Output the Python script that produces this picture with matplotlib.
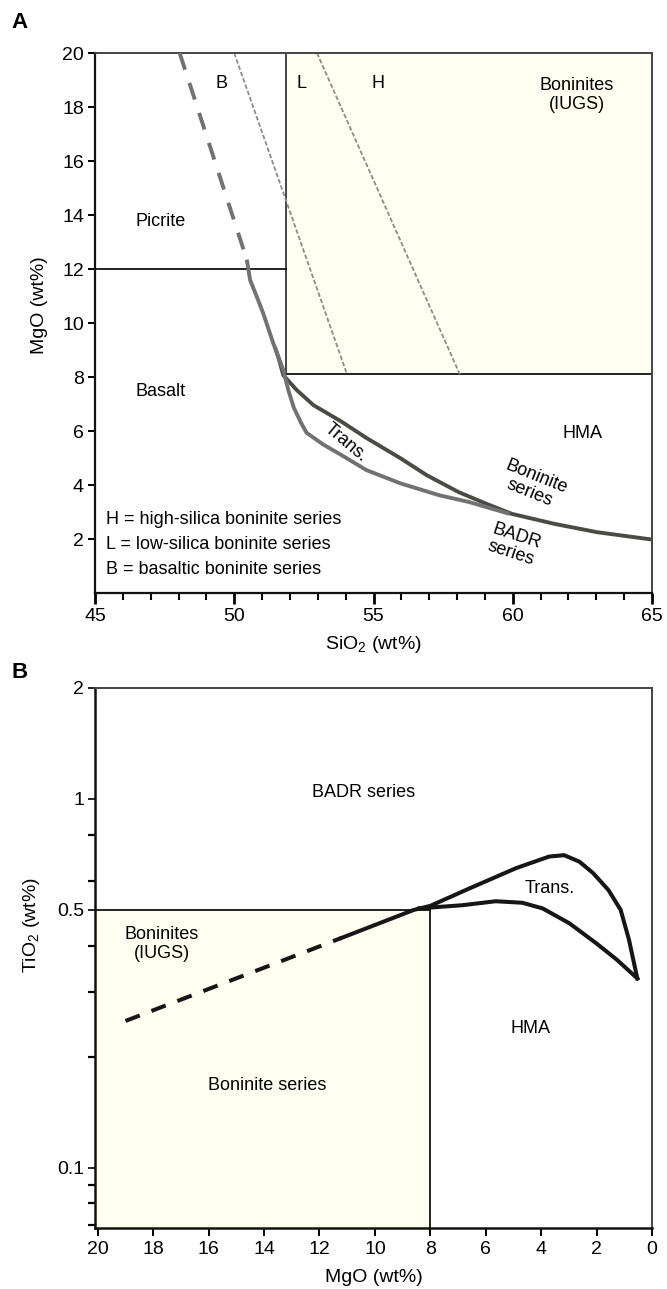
import numpy as np
import matplotlib
matplotlib.use("Agg")
import matplotlib.pyplot as plt
from matplotlib.patches import Rectangle
from matplotlib.ticker import FixedLocator, FixedFormatter, NullFormatter

plt.rcParams['font.family'] = ['Liberation Sans', 'DejaVu Sans']
plt.rcParams['mathtext.fontset'] = 'custom'
plt.rcParams['mathtext.rm'] = 'Liberation Sans'
plt.rcParams['mathtext.it'] = 'Liberation Sans:italic'

# ---- panel A: MgO vs SiO2 ----
picrite_mgo = 12.0
iugs_a_sio2 = 51.85      # left edge of IUGS boninite field
iugs_a_mgo = 8.1         # lower edge of IUGS boninite field
bl_sio2 = [50.0, 54.05]  # B / L divide
bl_mgo = [20.0, 8.1]
lh_sio2 = [52.97, 58.1]  # L / H divide
lh_mgo = [20.0, 8.1]

badr_dash_sio2 = [48.04, 50.45]
badr_dash_mgo = [20.0, 12.35]
badr_sio2 = [50.45, 50.57, 50.8, 51.04, 51.4, 51.76, 51.94, 52.14, 52.4, 52.6,
             53.21, 53.83, 54.75, 55.97, 57.36, 58.43, 59.89]
badr_mgo = [12.35, 11.59, 11.0, 10.36, 9.25, 8.26, 7.52, 6.86, 6.3, 5.93,
            5.49, 5.12, 4.55, 4.06, 3.62, 3.37, 2.93]
bon_sio2 = [51.46, 51.62, 51.76, 52.24, 52.84, 53.83, 54.75, 55.97, 56.9,
            58.05, 59.04, 59.97, 61.5, 63.04, 65.0]
bon_mgo = [9.12, 8.6, 8.07, 7.52, 6.96, 6.36, 5.74, 4.99, 4.37,
           3.74, 3.31, 2.93, 2.56, 2.25, 1.98]

# ---- panel B: TiO2 vs MgO ----
iugs_b_mgo = 8.0
iugs_b_tio2 = 0.5
bdash_mgo = [19.0, 11.2]
bdash_tio2 = [0.25, 0.42]
upper_mgo = [11.2, 8.6, 8.0, 6.61, 4.91, 3.71, 3.17, 2.62, 2.13, 1.57, 1.13, 0.83, 0.53]
upper_tio2 = [0.42, 0.50, 0.513, 0.571, 0.649, 0.698, 0.704, 0.676, 0.63, 0.566, 0.5, 0.415, 0.326]
lower_mgo = [8.4, 6.85, 5.64, 4.68, 3.95, 2.98, 2.01, 1.26, 0.53]
lower_tio2 = [0.505, 0.515, 0.528, 0.523, 0.505, 0.46, 0.406, 0.366, 0.326]

cream = '#fffef0'
gray_line = '#727272'
dark_line = '#4b4b43'

fig = plt.figure(figsize=(6.67, 12.89), dpi=100)
axA = fig.add_axes([95/667, 1-593/1289, 557/667, 540/1289])
axB = fig.add_axes([95/667, 1-1228/1289, 557/667, 540/1289])

# ---------- A ----------
axA.set_xlim(45, 65)
axA.set_ylim(0, 20)
axA.add_patch(Rectangle((iugs_a_sio2, iugs_a_mgo), 65-iugs_a_sio2, 20-iugs_a_mgo,
                        facecolor=cream, edgecolor='none', zorder=0))
axA.plot([iugs_a_sio2, iugs_a_sio2], [iugs_a_mgo, 20], color='#444444', lw=1.4, zorder=2)
axA.plot([iugs_a_sio2, 65], [iugs_a_mgo, iugs_a_mgo], color='#111111', lw=1.3, zorder=2)
axA.plot([45, iugs_a_sio2], [picrite_mgo, picrite_mgo], color='#111111', lw=1.3, zorder=2)
for xs, ys in [(bl_sio2, bl_mgo), (lh_sio2, lh_mgo)]:
    axA.plot(xs, ys, color='#8c8c8c', lw=1.3, dashes=(2.5, 1.2), zorder=2)

axA.plot(badr_dash_sio2, badr_dash_mgo, color=gray_line, lw=2.8, dashes=(4.5, 3.6),
         dash_capstyle='butt', zorder=3)
axA.plot(bon_sio2, bon_mgo, color=dark_line, lw=2.8, solid_capstyle='butt', zorder=3)
axA.plot(badr_sio2, badr_mgo, color=gray_line, lw=2.8, solid_capstyle='butt', zorder=4)

fs = 13
axA.text(49.54, 18.88, 'B', fontsize=fs, ha='center', va='center')
axA.text(52.4, 18.88, 'L', fontsize=fs, ha='center', va='center')
axA.text(55.17, 18.88, 'H', fontsize=fs, ha='center', va='center')
axA.text(62.3, 18.45, 'Boninites\n(IUGS)', fontsize=fs, ha='center', va='center', linespacing=1.15)
axA.text(47.35, 13.75, 'Picrite', fontsize=fs, ha='center', va='center')
axA.text(47.35, 7.46, 'Basalt', fontsize=fs, ha='center', va='center')
axA.text(62.52, 5.91, 'HMA', fontsize=fs, ha='center', va='center')
axA.text(54.0, 5.55, 'Trans.', fontsize=fs, ha='center', va='center', rotation=-40)
axA.text(60.73, 4.0, 'Boninite\nseries', fontsize=fs, ha='center', va='center',
         rotation=-22, linespacing=1.0)
axA.text(60.03, 1.78, 'BADR\nseries', fontsize=fs, ha='center', va='center',
         rotation=-18, linespacing=1.0)
legend_lines = ['H = high-silica boninite series',
                'L = low-silica boninite series',
                'B = basaltic boninite series']
for i, s in enumerate(legend_lines):
    axA.text(45.4, 2.74 - 0.93*i, s, fontsize=fs, ha='left', va='center')

axA.set_xticks([45, 50, 55, 60, 65])
axA.xaxis.set_minor_locator(FixedLocator(np.arange(45, 66, 1)))
axA.set_yticks(np.arange(2, 21, 2))
axA.tick_params(axis='x', which='major', direction='out', length=8, width=2, labelsize=14, pad=3)
axA.tick_params(axis='x', which='minor', direction='out', length=5, width=1.5)
axA.tick_params(axis='y', which='major', direction='out', length=5, width=1.4, labelsize=14, pad=3)
axA.set_xlabel('SiO$_2$ (wt%)', fontsize=14, labelpad=6)
axA.set_ylabel('MgO (wt%)', fontsize=14)
axA.yaxis.set_label_coords(-0.085, 0.533)
for side in ['left', 'bottom']:
    axA.spines[side].set_linewidth(1.6)
    axA.spines[side].set_color('#111111')
for side in ['top', 'right']:
    axA.spines[side].set_linewidth(1.4)
    axA.spines[side].set_color('#444444')
fig.text(20/667, 1-23/1289, 'A', fontsize=16, fontweight='bold', ha='center', va='center')

# ---------- B ----------
axB.set_yscale('log')
axB.set_xlim(20.1, 0)
axB.set_ylim(0.0686, 2)
axB.add_patch(Rectangle((iugs_b_mgo, 0.0686), 20.1-iugs_b_mgo, iugs_b_tio2-0.0686,
                        facecolor=cream, edgecolor='none', zorder=0))
axB.plot([iugs_b_mgo, iugs_b_mgo], [0.0686, iugs_b_tio2], color='#111111', lw=1.3, zorder=2)
axB.plot([20.1, iugs_b_mgo], [iugs_b_tio2, iugs_b_tio2], color='#111111', lw=1.3, zorder=2)

axB.plot(bdash_mgo, bdash_tio2, color='#161616', lw=2.9, dashes=(3.8, 3.1),
         dash_capstyle='butt', zorder=3)
axB.plot(upper_mgo, upper_tio2, color='#161616', lw=2.9, solid_joinstyle='round', zorder=3)
axB.plot(lower_mgo, lower_tio2, color='#161616', lw=2.9, solid_joinstyle='round', zorder=3)

axB.text(10.4, 1.04, 'BADR series', fontsize=fs, ha='center', va='center')
axB.text(3.71, 0.571, 'Trans.', fontsize=fs, ha='center', va='center')
axB.text(17.7, 0.405, 'Boninites\n(IUGS)', fontsize=fs, ha='center', va='center', linespacing=1.15)
axB.text(4.38, 0.239, 'HMA', fontsize=fs, ha='center', va='center')
axB.text(13.9, 0.167, 'Boninite series', fontsize=fs, ha='center', va='center')

axB.yaxis.set_major_locator(FixedLocator([0.1, 0.5, 1, 2]))
axB.yaxis.set_major_formatter(FixedFormatter(['0.1', '0.5', '1', '2']))
axB.yaxis.set_minor_locator(FixedLocator([0.07, 0.08, 0.09, 0.2, 0.3, 0.4, 0.6, 0.8]))
axB.yaxis.set_minor_formatter(NullFormatter())
axB.set_xticks(np.arange(0, 21, 2))
axB.tick_params(axis='x', which='major', direction='out', length=6, width=1.4, labelsize=14, pad=3)
axB.tick_params(axis='y', which='major', direction='out', length=5, width=1.2, labelsize=14, pad=3)
axB.tick_params(axis='y', which='minor', direction='out', length=5, width=1.6)
axB.set_xlabel('MgO (wt%)', fontsize=14, labelpad=8)
axB.set_ylabel('TiO$_2$ (wt%)', fontsize=14)
axB.yaxis.set_label_coords(-0.095, 0.561)
for side in ['left', 'bottom']:
    axB.spines[side].set_linewidth(1.8)
    axB.spines[side].set_color('#111111')
for side in ['top', 'right']:
    axB.spines[side].set_linewidth(1.4)
    axB.spines[side].set_color('#444444')
fig.text(20/667, 1-672/1289, 'B', fontsize=16, fontweight='bold', ha='center', va='center')

fig.savefig('out.png', dpi=100)
